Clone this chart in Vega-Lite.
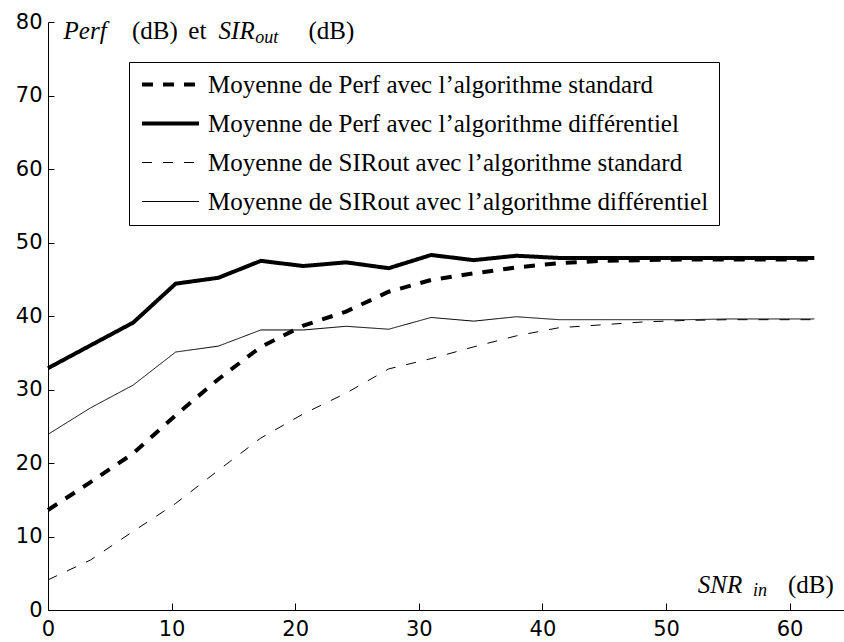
{
  "$schema": "https://vega.github.io/schema/vega-lite/v6.json",
  "autosize": {"type": "none"},
  "padding": {"left": 48, "top": 22, "right": 0, "bottom": 32},
  "width": 796,
  "height": 588,
  "background": "white",
  "config": {
    "view": {"stroke": null},
    "axis": {
      "grid": false,
      "domainColor": "black",
      "domainWidth": 1,
      "tickColor": "black",
      "tickWidth": 1,
      "labelFont": "DejaVu Sans",
      "labelFontSize": 21,
      "labelColor": "black",
      "title": null
    }
  },
  "datasets": {
    "courbes": [
      {"snr": 0, "valeur": 13.6, "serie": "Moyenne de Perf avec l’algorithme standard"},
      {"snr": 3.44, "valeur": 17.4, "serie": "Moyenne de Perf avec l’algorithme standard"},
      {"snr": 6.89, "valeur": 21.3, "serie": "Moyenne de Perf avec l’algorithme standard"},
      {"snr": 10.33, "valeur": 26.5, "serie": "Moyenne de Perf avec l’algorithme standard"},
      {"snr": 13.78, "valeur": 31.4, "serie": "Moyenne de Perf avec l’algorithme standard"},
      {"snr": 17.22, "valeur": 35.8, "serie": "Moyenne de Perf avec l’algorithme standard"},
      {"snr": 20.67, "valeur": 38.7, "serie": "Moyenne de Perf avec l’algorithme standard"},
      {"snr": 24.11, "valeur": 40.6, "serie": "Moyenne de Perf avec l’algorithme standard"},
      {"snr": 27.56, "valeur": 43.3, "serie": "Moyenne de Perf avec l’algorithme standard"},
      {"snr": 31, "valeur": 44.9, "serie": "Moyenne de Perf avec l’algorithme standard"},
      {"snr": 34.44, "valeur": 45.8, "serie": "Moyenne de Perf avec l’algorithme standard"},
      {"snr": 37.89, "valeur": 46.6, "serie": "Moyenne de Perf avec l’algorithme standard"},
      {"snr": 41.33, "valeur": 47.2, "serie": "Moyenne de Perf avec l’algorithme standard"},
      {"snr": 44.78, "valeur": 47.5, "serie": "Moyenne de Perf avec l’algorithme standard"},
      {"snr": 48.22, "valeur": 47.6, "serie": "Moyenne de Perf avec l’algorithme standard"},
      {"snr": 51.67, "valeur": 47.7, "serie": "Moyenne de Perf avec l’algorithme standard"},
      {"snr": 55.11, "valeur": 47.7, "serie": "Moyenne de Perf avec l’algorithme standard"},
      {"snr": 58.56, "valeur": 47.7, "serie": "Moyenne de Perf avec l’algorithme standard"},
      {"snr": 62, "valeur": 47.7, "serie": "Moyenne de Perf avec l’algorithme standard"},
      {"snr": 0, "valeur": 32.9, "serie": "Moyenne de Perf avec l’algorithme différentiel"},
      {"snr": 3.44, "valeur": 36.0, "serie": "Moyenne de Perf avec l’algorithme différentiel"},
      {"snr": 6.89, "valeur": 39.1, "serie": "Moyenne de Perf avec l’algorithme différentiel"},
      {"snr": 10.33, "valeur": 44.4, "serie": "Moyenne de Perf avec l’algorithme différentiel"},
      {"snr": 13.78, "valeur": 45.2, "serie": "Moyenne de Perf avec l’algorithme différentiel"},
      {"snr": 17.22, "valeur": 47.5, "serie": "Moyenne de Perf avec l’algorithme différentiel"},
      {"snr": 20.67, "valeur": 46.8, "serie": "Moyenne de Perf avec l’algorithme différentiel"},
      {"snr": 24.11, "valeur": 47.3, "serie": "Moyenne de Perf avec l’algorithme différentiel"},
      {"snr": 27.56, "valeur": 46.5, "serie": "Moyenne de Perf avec l’algorithme différentiel"},
      {"snr": 31, "valeur": 48.3, "serie": "Moyenne de Perf avec l’algorithme différentiel"},
      {"snr": 34.44, "valeur": 47.6, "serie": "Moyenne de Perf avec l’algorithme différentiel"},
      {"snr": 37.89, "valeur": 48.2, "serie": "Moyenne de Perf avec l’algorithme différentiel"},
      {"snr": 41.33, "valeur": 47.9, "serie": "Moyenne de Perf avec l’algorithme différentiel"},
      {"snr": 44.78, "valeur": 47.9, "serie": "Moyenne de Perf avec l’algorithme différentiel"},
      {"snr": 48.22, "valeur": 47.9, "serie": "Moyenne de Perf avec l’algorithme différentiel"},
      {"snr": 51.67, "valeur": 47.9, "serie": "Moyenne de Perf avec l’algorithme différentiel"},
      {"snr": 55.11, "valeur": 47.9, "serie": "Moyenne de Perf avec l’algorithme différentiel"},
      {"snr": 58.56, "valeur": 47.9, "serie": "Moyenne de Perf avec l’algorithme différentiel"},
      {"snr": 62, "valeur": 47.9, "serie": "Moyenne de Perf avec l’algorithme différentiel"},
      {"snr": 0, "valeur": 4.1, "serie": "Moyenne de SIRout avec l’algorithme standard"},
      {"snr": 3.44, "valeur": 6.8, "serie": "Moyenne de SIRout avec l’algorithme standard"},
      {"snr": 6.89, "valeur": 10.7, "serie": "Moyenne de SIRout avec l’algorithme standard"},
      {"snr": 10.33, "valeur": 14.5, "serie": "Moyenne de SIRout avec l’algorithme standard"},
      {"snr": 13.78, "valeur": 19.0, "serie": "Moyenne de SIRout avec l’algorithme standard"},
      {"snr": 17.22, "valeur": 23.4, "serie": "Moyenne de SIRout avec l’algorithme standard"},
      {"snr": 20.67, "valeur": 26.7, "serie": "Moyenne de SIRout avec l’algorithme standard"},
      {"snr": 24.11, "valeur": 29.5, "serie": "Moyenne de SIRout avec l’algorithme standard"},
      {"snr": 27.56, "valeur": 32.8, "serie": "Moyenne de SIRout avec l’algorithme standard"},
      {"snr": 31, "valeur": 34.2, "serie": "Moyenne de SIRout avec l’algorithme standard"},
      {"snr": 34.44, "valeur": 35.8, "serie": "Moyenne de SIRout avec l’algorithme standard"},
      {"snr": 37.89, "valeur": 37.3, "serie": "Moyenne de SIRout avec l’algorithme standard"},
      {"snr": 41.33, "valeur": 38.4, "serie": "Moyenne de SIRout avec l’algorithme standard"},
      {"snr": 44.78, "valeur": 38.8, "serie": "Moyenne de SIRout avec l’algorithme standard"},
      {"snr": 48.22, "valeur": 39.2, "serie": "Moyenne de SIRout avec l’algorithme standard"},
      {"snr": 51.67, "valeur": 39.4, "serie": "Moyenne de SIRout avec l’algorithme standard"},
      {"snr": 55.11, "valeur": 39.5, "serie": "Moyenne de SIRout avec l’algorithme standard"},
      {"snr": 58.56, "valeur": 39.5, "serie": "Moyenne de SIRout avec l’algorithme standard"},
      {"snr": 62, "valeur": 39.5, "serie": "Moyenne de SIRout avec l’algorithme standard"},
      {"snr": 0, "valeur": 23.9, "serie": "Moyenne de SIRout avec l’algorithme différentiel"},
      {"snr": 3.44, "valeur": 27.5, "serie": "Moyenne de SIRout avec l’algorithme différentiel"},
      {"snr": 6.89, "valeur": 30.6, "serie": "Moyenne de SIRout avec l’algorithme différentiel"},
      {"snr": 10.33, "valeur": 35.1, "serie": "Moyenne de SIRout avec l’algorithme différentiel"},
      {"snr": 13.78, "valeur": 35.9, "serie": "Moyenne de SIRout avec l’algorithme différentiel"},
      {"snr": 17.22, "valeur": 38.1, "serie": "Moyenne de SIRout avec l’algorithme différentiel"},
      {"snr": 20.67, "valeur": 38.1, "serie": "Moyenne de SIRout avec l’algorithme différentiel"},
      {"snr": 24.11, "valeur": 38.6, "serie": "Moyenne de SIRout avec l’algorithme différentiel"},
      {"snr": 27.56, "valeur": 38.2, "serie": "Moyenne de SIRout avec l’algorithme différentiel"},
      {"snr": 31, "valeur": 39.8, "serie": "Moyenne de SIRout avec l’algorithme différentiel"},
      {"snr": 34.44, "valeur": 39.3, "serie": "Moyenne de SIRout avec l’algorithme différentiel"},
      {"snr": 37.89, "valeur": 39.9, "serie": "Moyenne de SIRout avec l’algorithme différentiel"},
      {"snr": 41.33, "valeur": 39.5, "serie": "Moyenne de SIRout avec l’algorithme différentiel"},
      {"snr": 44.78, "valeur": 39.5, "serie": "Moyenne de SIRout avec l’algorithme différentiel"},
      {"snr": 48.22, "valeur": 39.5, "serie": "Moyenne de SIRout avec l’algorithme différentiel"},
      {"snr": 51.67, "valeur": 39.5, "serie": "Moyenne de SIRout avec l’algorithme différentiel"},
      {"snr": 55.11, "valeur": 39.6, "serie": "Moyenne de SIRout avec l’algorithme différentiel"},
      {"snr": 58.56, "valeur": 39.6, "serie": "Moyenne de SIRout avec l’algorithme différentiel"},
      {"snr": 62, "valeur": 39.6, "serie": "Moyenne de SIRout avec l’algorithme différentiel"}
    ]
  },
  "layer": [
    {
      "data": {"name": "courbes"},
      "mark": {"type": "line", "color": "black", "strokeCap": "butt", "strokeJoin": "miter"},
      "encoding": {
        "x": {
          "field": "snr", "type": "quantitative",
          "scale": {"domain": [0, 64.4], "nice": false, "zero": false},
          "axis": {"values": [0, 10, 20, 30, 40, 50, 60], "tickSize": -7, "labelPadding": 15, "labelFlush": false, "labelOverlap": false}
        },
        "y": {
          "field": "valeur", "type": "quantitative",
          "scale": {"domain": [0, 80], "nice": false},
          "axis": {"values": [0, 10, 20, 30, 40, 50, 60, 70, 80], "tickSize": -6, "labelPadding": 12, "labelFlush": false, "labelOverlap": false}
        },
        "strokeDash": {
          "field": "serie", "type": "ordinal",
          "scale": {
            "type": "ordinal",
            "domain": ["Moyenne de Perf avec l’algorithme standard", "Moyenne de Perf avec l’algorithme différentiel", "Moyenne de SIRout avec l’algorithme standard", "Moyenne de SIRout avec l’algorithme différentiel"],
            "range": [[11, 10], [1, 0], [10, 11], [1, 0]]
          },
          "legend": {
            "title": null, "orient": "none", "legendX": 81, "legendY": 40,
            "strokeColor": "black", "fillColor": "white", "padding": 10,
            "symbolType": "M-3,0H3", "symbolSize": 361, "symbolOffset": 19, "symbolStrokeColor": "black",
            "labelFont": "Liberation Serif", "labelFontSize": 25, "labelColor": "black",
            "labelOffset": 25, "labelLimit": 1000, "rowPadding": 13
          }
        },
        "strokeWidth": {
          "field": "serie", "type": "ordinal",
          "scale": {
            "type": "ordinal",
            "domain": ["Moyenne de Perf avec l’algorithme standard", "Moyenne de Perf avec l’algorithme différentiel", "Moyenne de SIRout avec l’algorithme standard", "Moyenne de SIRout avec l’algorithme différentiel"],
            "range": [4, 4, 1, 1]
          },
          "legend": {
            "title": null, "orient": "none", "legendX": 81, "legendY": 40,
            "strokeColor": "black", "fillColor": "white", "padding": 10,
            "symbolType": "M-3,0H3", "symbolSize": 361, "symbolOffset": 19, "symbolStrokeColor": "black",
            "labelFont": "Liberation Serif", "labelFontSize": 25, "labelColor": "black",
            "labelOffset": 25, "labelLimit": 1000, "rowPadding": 13
          }
        }
      }
    },
    {
      "data": {"values": [{"t": "Perf"}]},
      "mark": {"type": "text", "font": "Liberation Serif", "fontStyle": "italic", "fontSize": 25, "align": "left", "baseline": "alphabetic", "color": "black"},
      "encoding": {"x": {"datum": 1.26}, "y": {"datum": 77.65}, "text": {"field": "t"}}
    },
    {
      "data": {"values": [{"t": "(dB)"}]},
      "mark": {"type": "text", "font": "Liberation Serif", "fontSize": 25, "align": "left", "baseline": "alphabetic", "color": "black"},
      "encoding": {"x": {"datum": 6.79}, "y": {"datum": 77.65}, "text": {"field": "t"}}
    },
    {
      "data": {"values": [{"t": "et"}]},
      "mark": {"type": "text", "font": "Liberation Serif", "fontSize": 25, "align": "left", "baseline": "alphabetic", "color": "black"},
      "encoding": {"x": {"datum": 11.35}, "y": {"datum": 77.65}, "text": {"field": "t"}}
    },
    {
      "data": {"values": [{"t": "SIR"}]},
      "mark": {"type": "text", "font": "Liberation Serif", "fontStyle": "italic", "fontSize": 25, "align": "left", "baseline": "alphabetic", "color": "black"},
      "encoding": {"x": {"datum": 13.8}, "y": {"datum": 77.65}, "text": {"field": "t"}}
    },
    {
      "data": {"values": [{"t": "out"}]},
      "mark": {"type": "text", "font": "Liberation Serif", "fontStyle": "italic", "fontSize": 18, "align": "left", "baseline": "alphabetic", "color": "black"},
      "encoding": {"x": {"datum": 16.76}, "y": {"datum": 77.2}, "text": {"field": "t"}}
    },
    {
      "data": {"values": [{"t": "(dB)"}]},
      "mark": {"type": "text", "font": "Liberation Serif", "fontSize": 25, "align": "left", "baseline": "alphabetic", "color": "black"},
      "encoding": {"x": {"datum": 21.07}, "y": {"datum": 77.65}, "text": {"field": "t"}}
    },
    {
      "data": {"values": [{"t": "SNR"}]},
      "mark": {"type": "text", "font": "Liberation Serif", "fontStyle": "italic", "fontSize": 25, "align": "left", "baseline": "alphabetic", "color": "black"},
      "encoding": {"x": {"datum": 52.57}, "y": {"datum": 2.27}, "text": {"field": "t"}}
    },
    {
      "data": {"values": [{"t": "in"}]},
      "mark": {"type": "text", "font": "Liberation Serif", "fontStyle": "italic", "fontSize": 18, "align": "left", "baseline": "alphabetic", "color": "black"},
      "encoding": {"x": {"datum": 57.04}, "y": {"datum": 1.85}, "text": {"field": "t"}}
    },
    {
      "data": {"values": [{"t": "(dB)"}]},
      "mark": {"type": "text", "font": "Liberation Serif", "fontSize": 25, "align": "left", "baseline": "alphabetic", "color": "black"},
      "encoding": {"x": {"datum": 59.87}, "y": {"datum": 2.27}, "text": {"field": "t"}}
    }
  ]
}
